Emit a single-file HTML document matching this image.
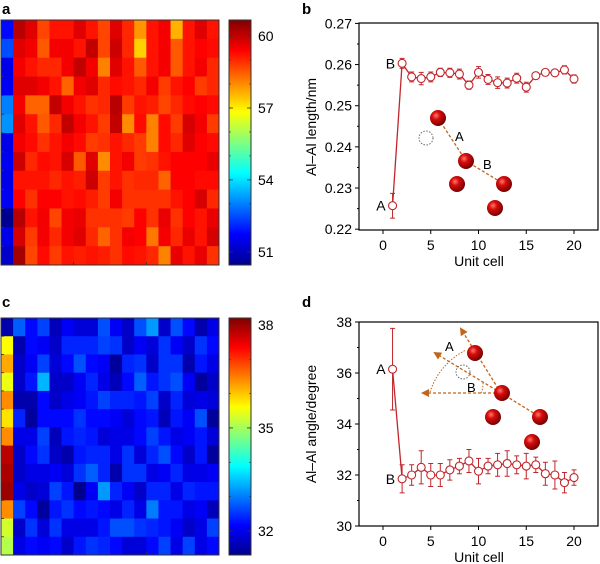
<!DOCTYPE html>
<html><head><meta charset="utf-8"><style>
html,body{margin:0;padding:0;background:#fff;}
svg{display:block;font-family:"Liberation Sans",Arial,sans-serif;}
</style></head><body>
<svg id="fig" width="600" height="564" viewBox="0 0 600 564" xmlns="http://www.w3.org/2000/svg">
<defs>
<radialGradient id="ball" cx="0.38" cy="0.35" r="0.7">
<stop offset="0" stop-color="#ff7a6a"/><stop offset="0.35" stop-color="#d80c0c"/><stop offset="1" stop-color="#6a0000"/>
</radialGradient>
<linearGradient id="jetA" x1="0" y1="1" x2="0" y2="0">
<stop offset="0" stop-color="#00008f"/><stop offset="0.125" stop-color="#0000ff"/><stop offset="0.375" stop-color="#00ffff"/><stop offset="0.625" stop-color="#ffff00"/><stop offset="0.875" stop-color="#ff0000"/><stop offset="1" stop-color="#800000"/>
</linearGradient>
<marker id="arr" markerWidth="8" markerHeight="8" refX="6" refY="4" orient="auto" markerUnits="userSpaceOnUse"><path d="M0,0 L8,4 L0,8 Z" fill="#c0661c"/></marker>
</defs>

<text x="2" y="14" font-size="15" font-weight="bold">a</text>
<g id="heatA"></g>
<rect x="1" y="20" width="218" height="245" fill="none" stroke="#333" stroke-width="1"/>
<rect x="229" y="20" width="22" height="245" fill="url(#jetA)" stroke="#333" stroke-width="1"/>
<g id="cbA"></g>

<text x="2" y="307" font-size="15" font-weight="bold">c</text>
<g id="heatC"></g>
<rect x="1" y="318" width="218" height="237" fill="none" stroke="#333" stroke-width="1"/>
<rect x="229" y="318" width="22" height="237" fill="url(#jetA)" stroke="#333" stroke-width="1"/>
<g id="cbC"></g>

<text x="302" y="14" font-size="15" font-weight="bold">b</text>
<g id="chartB"></g>
<text transform="translate(316,127) rotate(-90)" text-anchor="middle" font-size="14">Al–Al length/nm</text>
<text x="479" y="266" text-anchor="middle" font-size="14">Unit cell</text>
<g>
<polyline points="438,118 466,161 504,184" fill="none" stroke="#c0661c" stroke-width="1.3" stroke-dasharray="3,2"/>
<circle cx="426" cy="138" r="7" fill="none" stroke="#666" stroke-width="1" stroke-dasharray="1.5,1.5"/>
<circle cx="438" cy="118" r="8" fill="url(#ball)"/>
<circle cx="466" cy="161" r="8" fill="url(#ball)"/>
<circle cx="457" cy="184" r="8" fill="url(#ball)"/>
<circle cx="504" cy="184" r="8" fill="url(#ball)"/>
<circle cx="495" cy="208" r="8" fill="url(#ball)"/>
<text x="455" y="141" font-size="13">A</text>
<text x="483" y="169" font-size="13">B</text>
</g>

<text x="302" y="307" font-size="15" font-weight="bold">d</text>
<g id="chartD"></g>
<text transform="translate(316,424) rotate(-90)" text-anchor="middle" font-size="14">Al–Al angle/degree</text>
<text x="479" y="562" text-anchor="middle" font-size="14">Unit cell</text>
<g>
<line x1="501" y1="393" x2="461" y2="329" stroke="#c0661c" stroke-width="1.3" stroke-dasharray="3,2" marker-end="url(#arr)"/>
<line x1="501" y1="393" x2="435" y2="353" stroke="#c0661c" stroke-width="1.3" stroke-dasharray="3,2" marker-end="url(#arr)"/>
<line x1="501" y1="393" x2="423" y2="393" stroke="#c0661c" stroke-width="1.3" stroke-dasharray="3,2" marker-end="url(#arr)"/>
<line x1="501" y1="393" x2="540" y2="417" stroke="#c0661c" stroke-width="1.3" stroke-dasharray="3,2"/>
<path d="M430,392 A71,71 0 0 1 466,350" fill="none" stroke="#c0661c" stroke-width="1" stroke-dasharray="1.5,1.5"/>
<path d="M481,393 A20,20 0 0 0 483,383" fill="none" stroke="#c0661c" stroke-width="1" stroke-dasharray="1.5,1.5"/>
<circle cx="463" cy="372" r="7" fill="none" stroke="#666" stroke-width="1" stroke-dasharray="1.5,1.5"/>
<circle cx="475" cy="353" r="8" fill="url(#ball)"/>
<circle cx="502" cy="393" r="8" fill="url(#ball)"/>
<circle cx="493" cy="417" r="8" fill="url(#ball)"/>
<circle cx="540" cy="417" r="8" fill="url(#ball)"/>
<circle cx="532" cy="442" r="8" fill="url(#ball)"/>
<text x="445" y="351" font-size="13">A</text>
<text x="467" y="392" font-size="13">B</text>
</g>
</svg>
<script>
const heatAValues = [
[51.8,60.1,59.7,58.7,59.2,59.2,59.7,59.2,58.7,59.7,59,57.9,59.2,59.5,57.6,59.2,59.7,59.2],
[52.5,59.7,59.5,58.5,59.5,59.5,59.2,60,58.7,59.9,59,57.3,59.2,59.5,58.5,59.2,59.4,59.3],
[51.5,59.5,59.2,59,59,59.5,60,59.5,58.1,59.7,59.2,58.5,59.2,59.5,58.5,59.2,59.5,59],
[51.6,59.7,59.7,59.5,59.2,58.4,59.5,59.7,59,59.3,59.2,59,59.5,58.8,59.2,59.4,58.8,59],
[53,59.5,58.4,58.4,60,59.5,59.2,58.9,59,60.1,58.8,59.2,59.1,58.7,59,59.3,59.4,59.3],
[53.2,59.7,59.2,58.5,59,60,59.5,59.2,58.8,60,58,59.3,58.1,59.3,58.8,59.8,59.5,58.8],
[51.5,59.5,59.3,58.9,59.2,59.5,59.3,58.8,58.9,59.2,59,58.8,58.1,59.3,59,59.7,59.4,59.3],
[51.6,59.9,59,59.3,59.2,59.8,58.5,59.7,58,59.2,59.5,58.8,58.9,59.2,59.4,59.4,59.4,59.6],
[51.5,59.2,59.2,59.2,59,59.2,59.1,59.9,58.8,59.2,58.9,59,59,58.4,59.4,59.4,59.3,59.3],
[51.6,59.4,58.9,59.4,59.4,59.2,59.3,59.1,58.8,59.5,58.9,58.9,58.9,58.9,59.2,59.4,59.8,59],
[50.6,60.1,59.2,59.5,58.7,59.5,59.6,58.9,58.9,58.9,58.8,59.4,58.9,59.6,58.9,59.4,59.2,59.6],
[51.5,59.8,58.8,59.5,59,59.5,59.7,59,58.4,58.9,59.5,59.4,58.2,59.5,59,59.6,59.2,59.8],
[51.2,60.3,58.7,59.3,58.8,59.2,59.1,59.2,59.1,58.9,59.3,59.2,59,58.1,59.6,59.2,59.6,58.9]
];
const heatCValues = [
[31.6,32.8,32.2,32.6,31.7,32.1,31.9,31.9,32.7,32.1,31.8,32.7,33.2,31.8,32.7,32.2,31.6,32],
[35.6,31.6,32.2,32.1,31.8,32.4,32.4,32.4,32.6,32.5,31.8,32.1,31.9,32.5,32.1,31.8,32.5,32.2],
[36.2,31.8,32.1,32.6,31.9,32.2,32.7,32.2,32.1,31.5,32.4,32.5,31.8,32.5,32.5,31.6,32.3,32],
[35.5,31.8,32.3,33.4,31.8,31.8,32.1,32.4,32,31.7,32.2,32.8,32.3,32.5,32.7,32.1,31.5,31.8],
[36.4,31.6,31.6,32.2,31.8,32,32.1,32.3,32.6,32.4,32.4,32.3,32.6,31.8,32.4,31.9,32,31.9],
[35.8,32.4,31.5,32.2,32.2,32.2,32.5,32.2,32.2,32.1,31.9,32.2,32.3,31.7,32.3,32.1,32.7,31.5],
[36.4,32,32,32.6,31.7,32.3,32.4,32.3,31.9,32,32,32.2,32.6,32.3,32,32.1,32.3,31.9],
[37.8,31.8,32.2,32.5,31.8,31.6,32.3,32.4,32.4,32,32.5,31.9,32.4,32.7,32.2,31.8,32.3,31.5],
[37.9,31.8,32,32,32.1,31.9,32.5,32.8,32.4,31.6,32.5,32.5,32,32.1,32.4,32,32,32.1],
[38,32,31.8,31.9,32.6,32.3,31.4,32.1,33.2,32.4,32.1,31.8,32.4,32.4,32,32.4,32.3,32.3],
[36.4,32.6,32.2,31.5,32.3,32.5,32.2,32.3,32.2,32,32.4,32,33,32.3,32.3,32,32.1,31.7],
[35.3,31.8,32.5,31.9,32.5,32,32,32,32.3,32.7,32.7,32.5,32.4,32.3,32.1,31.8,32,32.6],
[35.1,32,32.2,32.1,32.2,31.8,32.3,32.5,32.4,32.2,31.9,31.9,32.2,32.6,32,32.6,32,32.2]
];
const heatARange = [50.45, 60.67];
const heatCRange = [31.3, 38.2];
const cbATicks = [51, 54, 57, 60];
const cbCTicks = [32, 35, 38];

const cells = [1,2,3,4,5,6,7,8,9,10,11,12,13,14,15,16,17,18,19,20];
const lengthVals = [0.2257,0.2603,0.2570,0.2566,0.2570,0.2581,0.2580,0.2577,0.2550,0.2581,0.2564,0.2556,0.2555,0.2567,0.2545,0.2573,0.2581,0.2580,0.2587,0.2565];
const lengthErr = [0.0030,0.0012,0.0012,0.0015,0.0012,0.0010,0.0011,0.0012,0.0010,0.0014,0.0012,0.0014,0.0012,0.0012,0.0012,0.0008,0.0008,0.0006,0.0010,0.0010];
const angleVals = [36.15,31.85,32.0,32.3,32.0,32.0,32.2,32.35,32.55,32.15,32.35,32.4,32.45,32.4,32.35,32.4,32.05,32.0,31.7,31.9];
const angleErr = [1.6,0.55,0.4,0.65,0.45,0.45,0.4,0.3,0.45,0.5,0.3,0.45,0.5,0.35,0.5,0.3,0.45,0.55,0.4,0.3];
const xTicks = [0,5,10,15,20];
const yTicksB = [0.22,0.23,0.24,0.25,0.26,0.27];
const yTicksD = [30,32,34,36,38];
const yTickLabelsB = ["0.22","0.23","0.24","0.25","0.26","0.27"];
const yTickLabelsD = ["30","32","34","36","38"];

const NS = "http://www.w3.org/2000/svg";
function mk(tag, attrs, parent){const e=document.createElementNS(NS,tag);for(const k in attrs)e.setAttribute(k,attrs[k]);parent.appendChild(e);return e;}
function clamp(v){return Math.max(0,Math.min(1,v));}
function jet(t){const r=clamp(1.5-Math.abs(4*t-3)),g=clamp(1.5-Math.abs(4*t-2)),b=clamp(1.5-Math.abs(4*t-1));return `rgb(${Math.round(r*255)},${Math.round(g*255)},${Math.round(b*255)})`;}

function drawHeat(gid, vals, range, x0, y0, w, h, name){
  const g=document.getElementById(gid);
  const rows=vals.length, cols=vals[0].length, cw=w/cols, ch=h/rows;
  vals.forEach((row,i)=>row.forEach((v,j)=>{
    const t=(v-range[0])/(range[1]-range[0]);
    const r=mk('rect',{x:x0+j*cw,y:y0+i*ch,width:cw+0.4,height:ch+0.4,fill:jet(t)},g);
    
    
  }));
  for(let i=1;i<rows;i++){mk('line',{x1:x0,x2:x0+3,y1:y0+i*ch,y2:y0+i*ch,stroke:'#333','stroke-width':0.8},g);}
  for(let j=1;j<cols;j++){if(j%6==0){mk('line',{x1:x0+j*cw,x2:x0+j*cw,y1:y0+h,y2:y0+h-3,stroke:'#333','stroke-width':0.8},g);}}
}
function drawCB(gid, ticks, range, y0, h){
  const g=document.getElementById(gid);
  const sy=v=>y0+h-(v-range[0])/(range[1]-range[0])*h;
  ticks.forEach(t=>{
    const y=sy(t);
    mk('line',{x1:229,x2:233,y1:y,y2:y,stroke:'#333','stroke-width':0.8},g);
    mk('line',{x1:247,x2:251,y1:y,y2:y,stroke:'#333','stroke-width':0.8},g);
    const tx=mk('text',{x:258,y:y+5,'font-size':14},g);
    tx.textContent=t;
    
    
  });
  for(let v=Math.ceil(range[0]);v<=range[1];v++){const y=sy(v);mk('line',{x1:229,x2:231,y1:y,y2:y,stroke:'#333','stroke-width':0.6},g);mk('line',{x1:249,x2:251,y1:y,y2:y,stroke:'#333','stroke-width':0.6},g);}
}
drawHeat('heatA', heatAValues, heatARange, 1, 20, 218, 245, 'heatmap-a');
drawHeat('heatC', heatCValues, heatCRange, 1, 318, 218, 237, 'heatmap-c');
drawCB('cbA', cbATicks, heatARange, 20, 245);
drawCB('cbC', cbCTicks, heatCRange, 318, 237);

function drawChart(gid, frame, ydom, yticks, ylabels, vals, errs, nm){
  const g=document.getElementById(gid);
  const [fx0,fy0,fx1,fy1]=frame;
  const sx=v=>383+(v-0)*(574-383)/20;
  const sy=v=>fy1-(v-ydom[0])/(ydom[1]-ydom[0])*(fy1-fy0);
  const fr=mk('rect',{x:fx0,y:fy0,width:fx1-fx0,height:fy1-fy0,fill:'none',stroke:'#000','stroke-width':1.2},g);
  
  
  xTicks.forEach(t=>{
    mk('line',{x1:sx(t),x2:sx(t),y1:fy1,y2:fy1+4,stroke:'#000'},g);
    const tx=mk('text',{x:sx(t),y:fy1+20,'text-anchor':'middle','font-size':14},g);
    tx.textContent=t;
    
    
  });
  yticks.forEach((t,i)=>{
    mk('line',{x1:fx0-4,x2:fx0,y1:sy(t),y2:sy(t),stroke:'#000'},g);
    if(i<yticks.length-1){const m=(t+yticks[i+1])/2;mk('line',{x1:fx0-2,x2:fx0,y1:sy(m),y2:sy(m),stroke:'#000'},g);}
    const tx=mk('text',{x:fx0-7,y:sy(t)+5,'text-anchor':'end','font-size':14},g);
    tx.textContent=ylabels[i];
    
    
  });
  const col='#c0262b';
  const pl=mk('polyline',{points:cells.map((c,i)=>sx(c)+','+sy(vals[i])).join(' '),fill:'none',stroke:col,'stroke-width':1.3},g);
  
  
  cells.forEach((c,i)=>{
    const x=sx(c),y1=sy(vals[i]+errs[i]),y2=sy(vals[i]-errs[i]);
    const eb=mk('path',{d:`M${x},${y1}V${y2}M${x-2.5},${y1}H${x+2.5}M${x-2.5},${y2}H${x+2.5}`,stroke:col,'stroke-width':1,fill:'none'},g);
    
    
    const p=mk('circle',{cx:x,cy:sy(vals[i]),r:4,fill:'#fff',stroke:col,'stroke-width':1.1},g);
    
    
  });
  const ta=mk('text',{x:sx(cells[0])-7,y:sy(vals[0])+5,'text-anchor':'end','font-size':14},g);
  ta.textContent='A';
  
  
  const tb=mk('text',{x:sx(cells[1])-7,y:sy(vals[1])+5,'text-anchor':'end','font-size':14},g);
  tb.textContent='B';
  
  
}
drawChart('chartB',[359,23,598,230],[0.2198,0.2701],yTicksB,yTickLabelsB,lengthVals,lengthErr,'chart-b');
drawChart('chartD',[359,322,598,526],[30,38],yTicksD,yTickLabelsD,angleVals,angleErr,'chart-d');
</script>
</body></html>
